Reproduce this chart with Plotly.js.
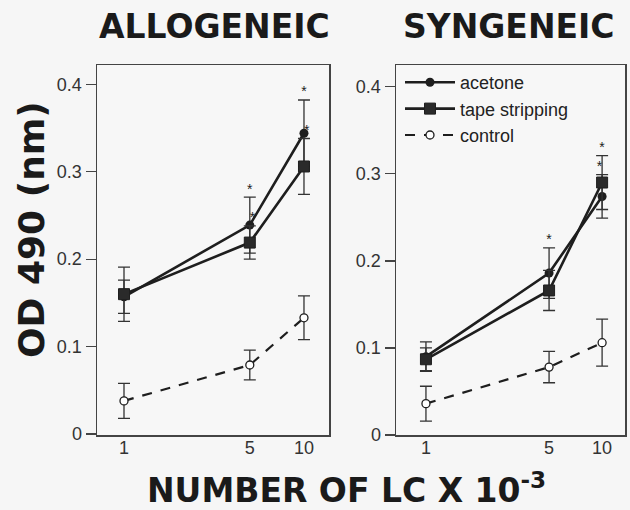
<!DOCTYPE html>
<html>
<head>
<meta charset="utf-8">
<script src="https://cdn.plot.ly/plotly-3.0.1.min.js"></script>
<style>html,body{margin:0;padding:0;background:#f6f6f6;}#chart{width:630px;height:510px;}</style>
</head>
<body>
<div id="chart"></div>
<script>
// ---- data ----
const cellsX = [1, 5, 10];               // number of LC x 10^-3
const xTickText = ['1', '5', '10'];
const yTickVals = [0, 0.1, 0.2, 0.3, 0.4];
const yTickText = ['0', '0.1', '0.2', '0.3', '0.4'];

// ALLOGENEIC
const alloAcetone = [0.157, 0.239, 0.344];
const alloAcetoneErr = [0.019, 0.032, 0.038];
const alloTape = [0.160, 0.219, 0.306];
const alloTapeErr = [0.031, 0.019, 0.032];
const alloControl = [0.038, 0.079, 0.133];
const alloControlErr = [0.020, 0.017, 0.025];

// SYNGENEIC
const synAcetone = [0.090, 0.186, 0.274];
const synAcetoneErr = [0.017, 0.029, 0.025];
const synTape = [0.087, 0.166, 0.290];
const synTapeErr = [0.013, 0.023, 0.031];
const synControl = [0.036, 0.078, 0.106];
const synControlErr = [0.020, 0.018, 0.027];

// significance markers (*) : indices into cellsX
const alloAcetoneStars = [1, 2];
const alloTapeStars = [1, 2];
const synAcetoneStars = [1, 2];
const synTapeStars = [2];

const seriesNames = ['acetone', 'tape stripping', 'control'];

// ---- styling ----
const ink = '#1e1e1e';
const errStyle = (arr) => ({type: 'data', array: arr, visible: true, color: '#333', thickness: 1.3, width: 6});

function panelTraces(ac, acE, tp, tpE, ct, ctE, xa, ya, showLeg) {
  return [
    {x: cellsX, y: ac, name: seriesNames[0], xaxis: xa, yaxis: ya, mode: 'lines+markers', showlegend: showLeg,
     line: {color: ink, width: 2.6}, marker: {symbol: 'circle', size: 9, color: ink}, error_y: errStyle(acE)},
    {x: cellsX, y: tp, name: seriesNames[1], xaxis: xa, yaxis: ya, mode: 'lines+markers', showlegend: showLeg,
     line: {color: ink, width: 2.6}, marker: {symbol: 'square', size: 11, color: '#2a2a2a', line: {color: ink, width: 1}}, error_y: errStyle(tpE)},
    {x: cellsX, y: ct, name: seriesNames[2], xaxis: xa, yaxis: ya, mode: 'lines+markers', showlegend: showLeg,
     line: {color: ink, width: 2.2, dash: '10px,9px'}, marker: {symbol: 'circle', size: 8, color: '#ffffff', line: {color: ink, width: 1.3}}, error_y: errStyle(ctE)}
  ];
}

function starTrace(vals, errs, idx, xa, ya, pos) {
  return {
    x: idx.map(i => cellsX[i]), y: idx.map(i => vals[i] + errs[i]),
    mode: 'text', text: idx.map(() => '*'), textposition: pos,
    textfont: {family: 'Liberation Sans, Arial', size: 14, color: '#222'},
    xaxis: xa, yaxis: ya, showlegend: false, hoverinfo: 'skip', cliponaxis: false
  };
}

const data = [
  ...panelTraces(alloAcetone, alloAcetoneErr, alloTape, alloTapeErr, alloControl, alloControlErr, 'x', 'y', false),
  ...panelTraces(synAcetone, synAcetoneErr, synTape, synTapeErr, synControl, synControlErr, 'x2', 'y2', true),
  starTrace(alloAcetone, alloAcetoneErr, alloAcetoneStars, 'x', 'y', 'top center'),
  starTrace(alloTape, alloTapeErr, alloTapeStars, 'x', 'y', 'top right'),
  starTrace(synAcetone, synAcetoneErr, synAcetoneStars, 'x2', 'y2', ['top center', 'top left']),
  starTrace(synTape, synTapeErr, synTapeStars, 'x2', 'y2', 'top center')
];

const tickFont = {family: 'Liberation Sans, Arial, sans-serif', size: 18, color: '#333'};
const frame = {showline: true, mirror: true, linecolor: '#444', linewidth: 1.5, showgrid: false, zeroline: false};
const yDomain = [1 - 435 / 510, 1 - 65 / 510];

const xBase = Object.assign({}, frame, {type: 'log', tickvals: cellsX, ticktext: xTickText, ticks: '', tickfont: tickFont, ticklabelstandoff: -4});
const yBase = Object.assign({}, frame, {tickvals: yTickVals, ticktext: yTickText, ticks: 'outside', ticklen: 10, tickwidth: 1.3, tickcolor: '#444', tickfont: tickFont, domain: yDomain});

const bold = {family: 'DejaVu Sans, Liberation Sans, Arial, sans-serif', size: 33, color: '#1a1a1a', weight: 'bold'};

const layout = {
  width: 630, height: 510,
  margin: {l: 0, r: 0, t: 0, b: 0},
  paper_bgcolor: '#f6f6f6', plot_bgcolor: '#f7f7f7',
  xaxis: Object.assign({}, xBase, {domain: [97 / 630, 329 / 630], range: [-0.15, 1.139], anchor: 'y'}),
  yaxis: Object.assign({}, yBase, {range: [-0.001, 0.422], anchor: 'x'}),
  xaxis2: Object.assign({}, xBase, {domain: [396 / 630, 625 / 630], range: [-0.17, 1.13], anchor: 'y2'}),
  yaxis2: Object.assign({}, yBase, {range: [0, 0.425], anchor: 'x2'}),
  showlegend: true,
  legend: {x: 400 / 630, y: 1 - 64 / 510, xanchor: 'left', yanchor: 'top', bgcolor: 'rgba(0,0,0,0)', itemwidth: 50,
           font: {family: 'Liberation Sans, Arial, sans-serif', size: 18, color: '#222'}, tracegroupgap: 0},
  annotations: [
    {text: 'ALLOGENEIC', x: 214 / 630, y: 1 - 26 / 510, xref: 'paper', yref: 'paper', showarrow: false, font: bold, xanchor: 'center', yanchor: 'middle'},
    {text: 'SYNGENEIC', x: 509 / 630, y: 1 - 26 / 510, xref: 'paper', yref: 'paper', showarrow: false, font: bold, xanchor: 'center', yanchor: 'middle'},
    {text: 'OD 490 (nm)', x: 32 / 630, y: 1 - 230 / 510, xref: 'paper', yref: 'paper', showarrow: false, textangle: -90,
     font: Object.assign({}, bold, {size: 36}), xanchor: 'center', yanchor: 'middle'},
    {text: 'NUMBER OF LC X 10<sup>-3</sup>', x: 346 / 630, y: 1 - 488 / 510, xref: 'paper', yref: 'paper', showarrow: false,
     font: bold, xanchor: 'center', yanchor: 'middle'}
  ]
};

Plotly.newPlot('chart', data, layout, {displayModeBar: false, staticPlot: true});
</script>
</body>
</html>
